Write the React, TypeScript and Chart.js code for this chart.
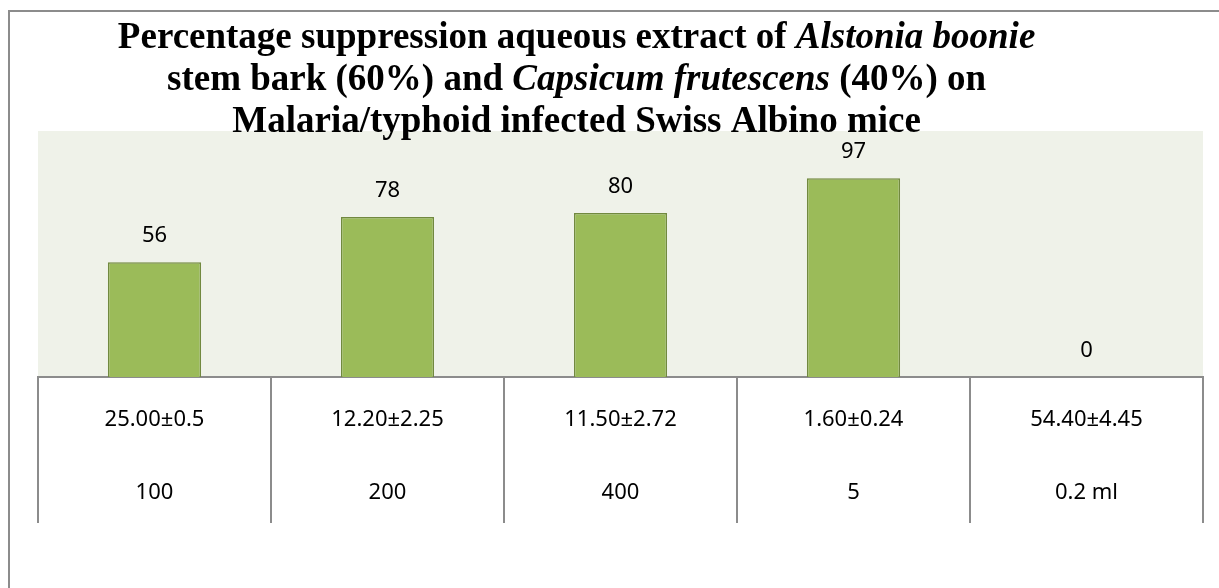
import React, { useEffect, useRef } from "react";
import { Chart, registerables } from "chart.js";

Chart.register(...registerables);

const doseLabels = ["100", "200", "400", "5", "0.2 ml"];
const parasitemia = ["25.00±0.5", "12.20±2.25", "11.50±2.72", "1.60±0.24", "54.40±4.45"];
const suppression = [56, 78, 80, 97, 0];

const titleLines: { text: string; italic: boolean }[][] = [
  [
    { text: "Percentage suppression aqueous extract of ", italic: false },
    { text: "Alstonia boonie", italic: true },
  ],
  [
    { text: "stem bark (60%) and ", italic: false },
    { text: "Capsicum frutescens", italic: true },
    { text: " (40%) on", italic: false },
  ],
  [{ text: "Malaria/typhoid infected Swiss Albino mice", italic: false }],
];

const LABEL_FONT = "'Noto Sans', sans-serif";
const TITLE_FONT = "'Liberation Serif', 'Times New Roman', serif";

const framePlugin = {
  id: "frame",
  beforeDraw(chart: any) {
    const { ctx, chartArea } = chart;
    ctx.save();
    ctx.fillStyle = "rgb(239,242,233)";
    ctx.fillRect(chartArea.left, chartArea.top, chartArea.right - chartArea.left, chartArea.bottom - chartArea.top);
    ctx.strokeStyle = "#8c8c8c";
    ctx.lineWidth = 2;
    ctx.beginPath();
    ctx.moveTo(9, chart.height);
    ctx.lineTo(9, 11);
    ctx.lineTo(chart.width, 11);
    ctx.stroke();
    ctx.restore();
  },
  afterDatasetsDraw(chart: any) {
    const { ctx } = chart;
    const meta = chart.getDatasetMeta(0);
    ctx.save();
    ctx.fillStyle = "#000";
    ctx.font = `22px ${LABEL_FONT}`;
    ctx.textAlign = "center";
    ctx.textBaseline = "middle";
    meta.data.forEach((bar: any, i: number) => {
      ctx.fillText(String(suppression[i]), bar.x, bar.y - 26);
    });
    ctx.restore();
  },
  afterDraw(chart: any) {
    const { ctx } = chart;
    ctx.save();
    ctx.fillStyle = "#000";
    ctx.textBaseline = "alphabetic";
    ctx.textAlign = "left";
    const cx = chart.width * 0.473;
    titleLines.forEach((segs, li) => {
      let total = 0;
      segs.forEach((s) => {
        ctx.font = `${s.italic ? "italic " : ""}bold 37px ${TITLE_FONT}`;
        total += ctx.measureText(s.text).width;
      });
      let x = cx - total / 2;
      const y = 48 + li * 42;
      segs.forEach((s) => {
        ctx.font = `${s.italic ? "italic " : ""}bold 37px ${TITLE_FONT}`;
        ctx.fillText(s.text, x, y);
        x += ctx.measureText(s.text).width;
      });
    });
    ctx.restore();
  },
};

export default function App() {
  const ref = useRef<HTMLCanvasElement | null>(null);

  useEffect(() => {
    if (!ref.current) return;
    const chart = new Chart(ref.current, {
      type: "bar",
      data: {
        labels: parasitemia.map((p, i) => [p, doseLabels[i]]),
        datasets: [
          {
            data: suppression,
            backgroundColor: "#9BBB59",
            borderColor: "#71893F",
            borderWidth: 1.5,
            barPercentage: 0.4,
            categoryPercentage: 1,
          },
        ],
      },
      options: {
        animation: false,
        responsive: true,
        maintainAspectRatio: false,
        layout: { padding: { left: 38, right: 16, top: 131, bottom: 0 } },
        plugins: {
          legend: { display: false },
          title: { display: false },
          tooltip: { enabled: false },
        },
        scales: {
          x: {
            offset: true,
            afterFit: (scale: any) => {
              scale.height = 211;
            },
            grid: {
              offset: true,
              drawOnChartArea: false,
              drawTicks: true,
              tickLength: 146,
              tickColor: "#8c8c8c",
              lineWidth: 2,
            },
            border: { display: true, color: "#8c8c8c", width: 2 },
            ticks: {
              color: "#000",
              padding: -139.5,
              maxRotation: 0,
              autoSkip: false,
              font: { family: LABEL_FONT, size: 22, lineHeight: "73px" as any },
            },
          },
          y: {
            display: false,
            min: 0,
            max: 120,
          },
        },
      },
      plugins: [framePlugin],
    });
    return () => chart.destroy();
  }, []);

  return (
    <div style={{ position: "absolute", left: 0, top: 0, width: 1219, height: 588, background: "#fff" }}>
      <canvas ref={ref} />
    </div>
  );
}
